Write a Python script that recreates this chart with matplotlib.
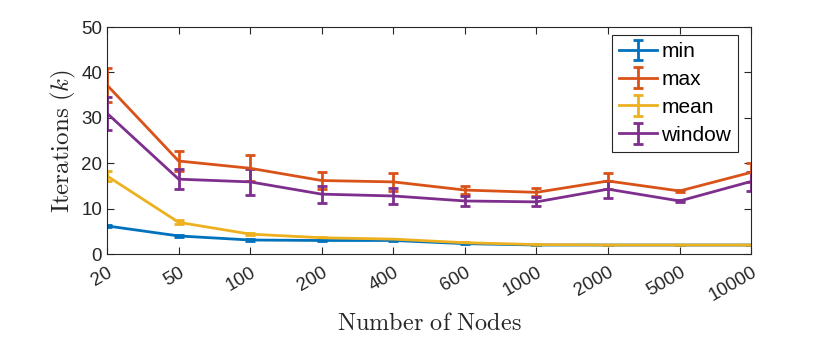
import matplotlib.pyplot as plt
import numpy as np

plt.rcParams['font.family'] = ['Liberation Sans', 'DejaVu Sans']
plt.rcParams['mathtext.fontset'] = 'cm'

# number of nodes (categorical x axis)
nodes = ['20', '50', '100', '200', '400', '600', '1000', '2000', '5000', '10000']

# iterations (k) per strategy, with error half-widths
min_vals = [6.2, 4.0, 3.1, 3.0, 3.0, 2.3, 2.0, 2.0, 2.0, 2.0]
min_err = [0.3, 0.2, 0.2, 0.1, 0.1, 0.1, 0.1, 0.1, 0.1, 0.1]
max_vals = [37.2, 20.5, 18.9, 16.2, 15.9, 14.1, 13.6, 16.1, 13.9, 18.0]
max_err = [3.8, 2.2, 2.9, 1.9, 1.9, 0.9, 0.9, 1.8, 0.3, 2.1]
mean_vals = [17.2, 7.0, 4.4, 3.6, 3.3, 2.5, 2.1, 2.0, 2.0, 2.0]
mean_err = [1.1, 0.4, 0.2, 0.1, 0.1, 0.1, 0.1, 0.1, 0.1, 0.1]
window_vals = [31.0, 16.5, 15.9, 13.2, 12.8, 11.7, 11.5, 14.3, 11.7, 16.0]
window_err = [3.7, 2.2, 2.8, 1.9, 1.8, 1.0, 1.0, 1.9, 0.3, 2.1]

colors = ['#0072BD', '#D95319', '#EDB120', '#7E2F8E']
series = [('min', min_vals, min_err), ('max', max_vals, max_err),
          ('mean', mean_vals, mean_err), ('window', window_vals, window_err)]

fig = plt.figure(figsize=(8.3, 3.42), dpi=100)
ax = fig.add_axes([0.129, 0.257, 0.776, 0.664])

x = np.arange(1, len(nodes) + 1)
for (name, vals, err), c in zip(series, colors):
    ax.errorbar(x, vals, yerr=err, color=c, lw=2, elinewidth=2,
                capsize=3.5, capthick=2, label=name)

ax.set_xlim(1, len(nodes))
ax.set_ylim(0, 50)
ax.set_yticks([0, 10, 20, 30, 40, 50])
ax.set_xticks(x)
ax.set_xticklabels(nodes, rotation=30, ha='right', rotation_mode='anchor')

for s in ax.spines.values():
    s.set_color('#262626')
    s.set_linewidth(0.8)
ax.tick_params(direction='in', top=True, right=True, labelsize=13.5,
               colors='#262626', labelcolor='#262626', length=5)
ax.tick_params(axis='x', pad=7)

ax.set_ylabel(r'$\mathrm{Iterations}\ (k)$', fontsize=18, color='#262626', labelpad=2)
ax.set_xlabel(r'$\mathrm{Number\ of\ Nodes}$', fontsize=17.5, color='#262626', labelpad=6)

leg = ax.legend(loc='upper right', fontsize=15, fancybox=False, framealpha=1,
                edgecolor='#262626', borderpad=0.35, handlelength=1.8,
                handletextpad=0.2, labelspacing=0.42, borderaxespad=0,
                bbox_to_anchor=(0.98, 0.965))
leg.get_frame().set_linewidth(0.8)

fig.savefig('out.png', dpi=100)
